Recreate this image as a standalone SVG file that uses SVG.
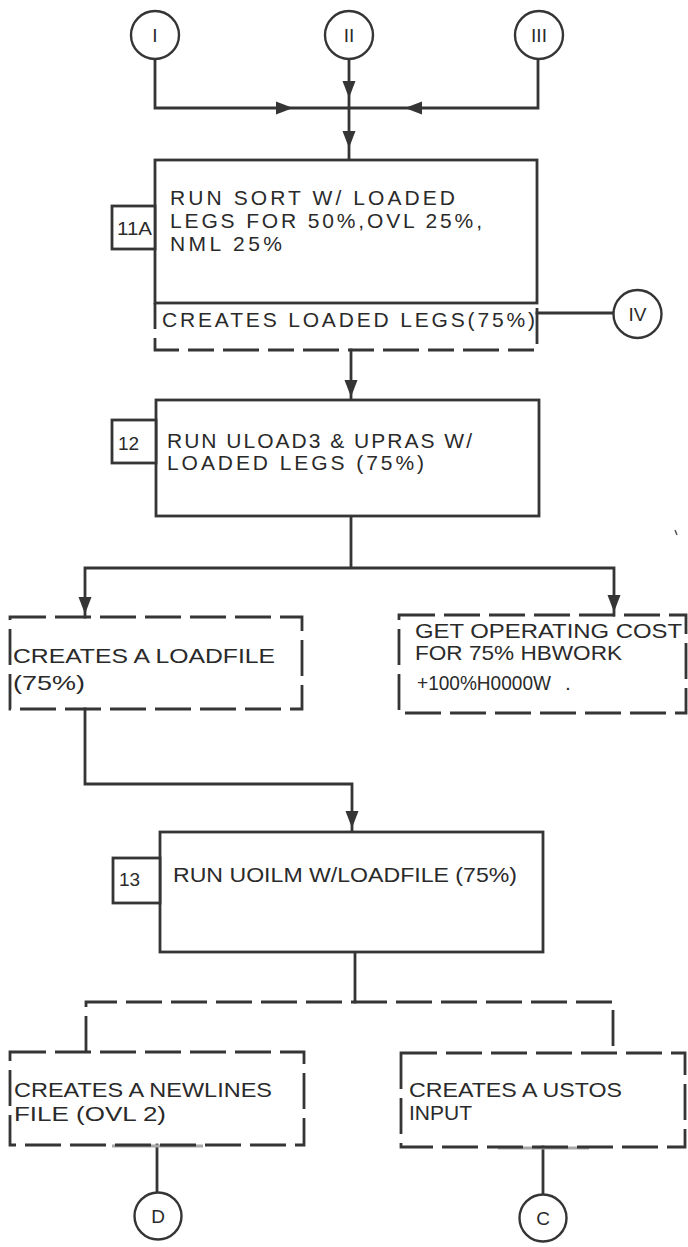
<svg xmlns="http://www.w3.org/2000/svg" width="688" height="1247" viewBox="0 0 688 1247">
<style>
.ln{fill:none;stroke:#353535;stroke-width:2.8;stroke-linecap:square}
.dash{fill:none;stroke:#353535;stroke-width:2.8;stroke-dasharray:36 9}
.box{fill:#fff;stroke:#353535;stroke-width:2.8}
.t{font-family:"Liberation Sans",Arial,sans-serif;font-size:21px;fill:#2a2a2a}
.n{font-family:"Liberation Sans",Arial,sans-serif;font-size:19px;fill:#2a2a2a}
.c{font-family:"Liberation Sans",Arial,sans-serif;font-size:19px;fill:#2a2a2a;text-anchor:middle}
.circ{fill:#fff;stroke:#353535;stroke-width:2.4}
</style>
<defs>
<path id="ah" d="M0,0 L-6.5,-17 L6.5,-17 Z" fill="#353535"/>
</defs>
<rect width="688" height="1247" fill="#fff"/>
<g id="connectors">
<path class="ln" d="M155,59 V108 H538 V59"/>
<path class="ln" d="M349,59 V160"/>
<path class="ln" d="M537,313 H613"/>
<path class="ln" d="M351,350 V400"/>
<path class="ln" d="M351,516 V568 M85,568 H614 M85,568 V617 M614,568 V615"/>
<path class="ln" d="M85,709 V784 H352 V832"/>
<path class="ln" d="M355,952 V1002"/>
<path class="dash" d="M86,1052 V1002 H613 V1052"/>
<path class="ln" d="M157,1145 V1192"/>
<path class="ln" d="M543,1147 V1195"/>
<path d="M112,1146 H203 M498,1148 H589" stroke="#a8a8a8" stroke-width="3" fill="none"/>
<use href="#ah" transform="translate(349,98)"/>
<use href="#ah" transform="translate(349,148)"/>
<use href="#ah" transform="translate(293,108) rotate(-90)"/>
<use href="#ah" transform="translate(405,108) rotate(90)"/>
<use href="#ah" transform="translate(351,397)"/>
<use href="#ah" transform="translate(85,614)"/>
<use href="#ah" transform="translate(614,612)"/>
<use href="#ah" transform="translate(352,828)"/>
</g>
<g id="nI"><circle class="circ" cx="155" cy="35" r="24"/><text class="c" x="155" y="42">I</text></g>
<g id="nII"><circle class="circ" cx="349" cy="35" r="24"/><text class="c" x="349" y="42">II</text></g>
<g id="nIII"><circle class="circ" cx="539" cy="35" r="24"/><text class="c" x="539" y="42">III</text></g>
<g id="n11A">
<rect class="box" x="155" y="160" width="382" height="143"/>
<path class="dash" style="stroke-dasharray:26 9 36 9" d="M155,303 V350 H537 V303"/>
<rect class="box" x="112" y="206" width="43" height="43"/>
<text class="n" x="117" y="235" textLength="35" lengthAdjust="spacingAndGlyphs">11A</text>
<text class="t" x="170" y="205" textLength="285" lengthAdjust="spacing">RUN SORT W/ LOADED</text>
<text class="t" x="170" y="228" textLength="312" lengthAdjust="spacing">LEGS FOR 50%,OVL 25%,</text>
<text class="t" x="170" y="251" textLength="112" lengthAdjust="spacing">NML 25%</text>
<text class="t" x="162" y="327" font-size="22" textLength="373" lengthAdjust="spacing">CREATES LOADED LEGS(75%)</text>
</g>
<g id="nIV"><circle class="circ" cx="637.5" cy="314" r="24"/><text class="c" x="637.5" y="321">IV</text></g>
<g id="n12">
<rect class="box" x="156" y="400" width="383" height="116"/>
<rect class="box" x="112" y="420" width="44" height="43"/>
<text class="n" x="118" y="450">12</text>
<text class="t" x="167" y="448" textLength="305" lengthAdjust="spacing">RUN ULOAD3 &amp; UPRAS W/</text>
<text class="t" x="167" y="470" textLength="257" lengthAdjust="spacing">LOADED LEGS (75%)</text>
</g>
<g id="nLoadfile">
<rect class="dash" x="10" y="617" width="292" height="92"/>
<text class="t" x="13" y="663" textLength="262" lengthAdjust="spacingAndGlyphs">CREATES A LOADFILE</text>
<text class="t" x="13" y="690" textLength="72" lengthAdjust="spacingAndGlyphs">(75%)</text>
</g>
<g id="nCost">
<rect class="dash" x="399" y="615" width="287" height="98"/>
<text class="t" x="415" y="638" textLength="267" lengthAdjust="spacingAndGlyphs">GET OPERATING COST</text>
<text class="t" x="415" y="660" textLength="207" lengthAdjust="spacingAndGlyphs">FOR 75% HBWORK</text>
<text class="t" x="417" y="690" textLength="134" lengthAdjust="spacingAndGlyphs">+100%H0000W</text>
<text class="t" x="565" y="690">.</text>
</g>
<path d="M675,530 L677,535" stroke="#555" stroke-width="1.5"/>
<g id="n13">
<rect class="box" x="160" y="832" width="383" height="120"/>
<rect class="box" x="113" y="858" width="47" height="45"/>
<text class="n" x="119" y="886">13</text>
<text class="t" x="173" y="882" textLength="344" lengthAdjust="spacingAndGlyphs">RUN UOILM W/LOADFILE (75%)</text>
</g>
<g id="nNewlines">
<rect class="dash" x="10" y="1052" width="294" height="93"/>
<text class="t" x="14" y="1097" textLength="258" lengthAdjust="spacingAndGlyphs">CREATES A NEWLINES</text>
<text class="t" x="14" y="1121" textLength="152" lengthAdjust="spacingAndGlyphs">FILE (OVL 2)</text>
</g>
<g id="nUstos">
<rect class="dash" x="401" y="1053" width="284" height="94"/>
<text class="t" x="409" y="1097" textLength="213" lengthAdjust="spacingAndGlyphs">CREATES A USTOS</text>
<text class="t" x="409" y="1120" textLength="63" lengthAdjust="spacingAndGlyphs">INPUT</text>
</g>
<g id="nD"><circle class="circ" cx="158" cy="1216" r="23.5"/><text class="c" x="158" y="1223">D</text></g>
<g id="nC"><circle class="circ" cx="543" cy="1218" r="23.5"/><text class="c" x="543" y="1225">C</text></g>
</svg>
